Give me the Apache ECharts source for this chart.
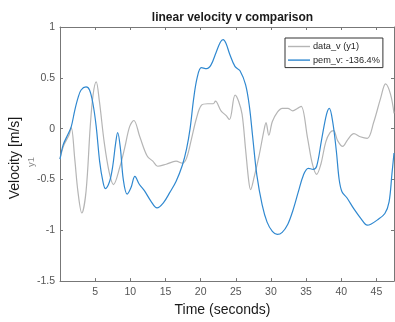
<!DOCTYPE html>
<html>
<head>
<meta charset="utf-8">
<script src="https://cdn.jsdelivr.net/npm/echarts@6/dist/echarts.min.js"></script>
<style>html,body{margin:0;padding:0;background:#fff;}#c{width:395px;height:322px;}</style>
</head>
<body>
<div id="c"></div>
<script>
var titleText = 'linear velocity v comparison';
var xName = 'Time (seconds)';
var yName = 'Velocity [m/s]';
var ySub = 'y1';
var legendNames = ['data_v (y1)', 'pem_v: -136.4%'];

var dataTime = [0, 0.5, 1.3, 1.6, 2.1, 2.55, 3.1, 3.7, 4.3, 4.7, 5.15, 5.6, 6.3, 7.0, 7.6, 8.5, 9.2, 9.9, 10.5, 11.35, 12.4, 13.2, 13.9, 15.1, 16.5, 17.4, 18.0, 18.7, 19.4, 20.1, 21.0, 21.8, 22.1, 22.9, 23.6, 24.1, 24.9, 25.4, 25.9, 26.4, 26.85, 27.1, 27.6, 28.3, 29.0, 29.3, 29.7, 30.2, 30.9, 31.6, 32.4, 33.1, 33.8, 34.3, 35.2, 35.9, 36.5, 37.1, 37.8, 38.4, 38.9, 39.5, 40.2, 40.9, 41.8, 42.7, 43.7, 44.6, 45.6, 46.3, 47.0, 47.5];
var dataV = [-0.30, -0.17, -0.06, 0.01, -0.30, -0.62, -0.83, -0.62, 0.02, 0.33, 0.46, 0.27, -0.14, -0.43, -0.55, -0.38, -0.19, 0.02, 0.08, -0.08, -0.27, -0.32, -0.37, -0.35, -0.32, -0.34, -0.29, -0.10, 0.10, 0.23, 0.245, 0.245, 0.27, 0.175, 0.13, 0.09, 0.33, 0.27, 0.14, -0.21, -0.52, -0.60, -0.48, -0.27, -0.02, 0.06, -0.065, 0.07, 0.16, 0.20, 0.20, 0.175, 0.20, 0.22, -0.09, -0.35, -0.45, -0.35, -0.13, -0.04, -0.02, -0.12, -0.175, -0.11, -0.05, -0.08, -0.095, 0.06, 0.30, 0.44, 0.34, 0.15];

var pemTime = [0, 0.45, 1.1, 1.6, 2.1, 2.55, 3.0, 3.7, 4.2, 4.7, 5.15, 5.65, 6.1, 6.45, 7.05, 7.5, 7.9, 8.2, 8.6, 9.0, 9.55, 10.1, 10.65, 11.3, 12.0, 12.9, 13.8, 14.7, 15.6, 16.5, 17.4, 18.0, 18.5, 19.0, 19.5, 20.1, 20.85, 21.5, 22.2, 22.8, 23.2, 23.6, 24.1, 24.9, 25.6, 26.4, 26.95, 27.4, 28.0, 28.75, 29.45, 30.2, 30.9, 31.6, 32.4, 33.1, 33.9, 34.6, 35.3, 36.0, 36.5, 37.2, 37.9, 38.3, 38.8, 39.3, 39.7, 40.1, 40.8, 41.8, 42.8, 43.7, 44.2, 45.1, 46.2, 46.8, 47.2, 47.5];
var pemV = [-0.30, -0.16, -0.06, 0.02, 0.18, 0.30, 0.38, 0.41, 0.38, 0.24, 0.02, -0.33, -0.52, -0.59, -0.52, -0.37, -0.15, -0.04, -0.20, -0.50, -0.645, -0.58, -0.47, -0.55, -0.61, -0.71, -0.78, -0.73, -0.63, -0.52, -0.36, -0.20, 0.0, 0.29, 0.50, 0.60, 0.59, 0.63, 0.75, 0.85, 0.875, 0.84, 0.74, 0.61, 0.57, 0.43, 0.21, -0.08, -0.46, -0.75, -0.92, -1.01, -1.04, -1.02, -0.94, -0.81, -0.62, -0.46, -0.39, -0.40, -0.37, -0.11, 0.14, 0.20, 0.06, -0.22, -0.50, -0.62, -0.68, -0.79, -0.885, -0.95, -0.94, -0.90, -0.835, -0.72, -0.45, -0.24];

function pairs(t, v) { return t.map(function (x, i) { return [x, v[i]]; }); }

var FONT = '"Liberation Sans", Arial, Helvetica, sans-serif';
var AX = '#777777';
var LBL = '#555555';

var chart = echarts.init(document.getElementById('c'), null, { renderer: 'canvas' });
var tickCommon = { show: true, inside: true, length: 3, lineStyle: { color: AX } };
chart.setOption({
  animation: false,
  backgroundColor: '#ffffff',
  title: {
    text: titleText, left: 227.5, top: 7, textAlign: 'center',
    textStyle: { fontFamily: FONT, fontSize: 12, fontWeight: 'bold', color: '#1a1a1a' }
  },
  grid: { left: 60, right: 1, top: 27, bottom: 33, containLabel: false },
  legend: {
    data: legendNames, orient: 'vertical', left: 285, top: 38,
    padding: [3, 3, 2, 3], itemWidth: 22, itemHeight: 1.4, itemGap: 2.6, icon: 'rect',
    backgroundColor: '#ffffff', borderColor: '#333333', borderWidth: 1, borderRadius: 0,
    textStyle: { fontFamily: FONT, fontSize: 9.2, color: '#262626', lineHeight: 11, padding: [0, 0, 0, -2] }
  },
  xAxis: [
    { type: 'value', min: 0, max: 47.5, interval: 5, position: 'bottom',
      axisLine: { show: true, onZero: false, lineStyle: { color: AX } },
      axisTick: tickCommon,
      axisLabel: { showMinLabel: false, showMaxLabel: false, fontFamily: FONT, fontSize: 10.5, color: LBL, margin: 6 },
      splitLine: { show: false },
      name: xName, nameLocation: 'middle', nameGap: 18,
      nameTextStyle: { fontFamily: FONT, fontSize: 14, color: '#1a1a1a', padding: [0, 9, 0, 0] } },
    { type: 'value', min: 0, max: 47.5, interval: 5, position: 'top',
      axisLine: { show: true, onZero: false, lineStyle: { color: AX } },
      axisTick: tickCommon, axisLabel: { show: false }, splitLine: { show: false } }
  ],
  yAxis: [
    { type: 'value', min: -1.5, max: 1, interval: 0.5, position: 'left',
      axisLine: { show: true, onZero: false, lineStyle: { color: AX } },
      axisTick: tickCommon,
      axisLabel: { fontFamily: FONT, fontSize: 10.5, color: LBL, margin: 5 },
      splitLine: { show: false } },
    { type: 'value', min: -1.5, max: 1, interval: 0.5, position: 'right',
      axisLine: { show: true, onZero: false, lineStyle: { color: AX } },
      axisTick: tickCommon, axisLabel: { show: false }, splitLine: { show: false } }
  ],
  graphic: [
    { type: 'text', x: 15, y: 158, rotation: Math.PI / 2,
      style: { text: yName, fontFamily: FONT, fontSize: 14, fill: '#1a1a1a', textAlign: 'center', textVerticalAlign: 'middle' } },
    { type: 'text', x: 31, y: 162, rotation: Math.PI / 2,
      style: { text: ySub, fontFamily: FONT, fontSize: 9.5, fill: '#8a8a8a', textAlign: 'center', textVerticalAlign: 'middle' } }
  ],
  series: [
    { name: legendNames[0], type: 'line', xAxisIndex: 0, yAxisIndex: 0, data: pairs(dataTime, dataV),
      symbol: 'none', smooth: 0.35, lineStyle: { color: '#b5b5b5', width: 1.2 }, itemStyle: { color: '#b5b5b5' }, z: 2 },
    { name: legendNames[1], type: 'line', xAxisIndex: 0, yAxisIndex: 0, data: pairs(pemTime, pemV),
      symbol: 'none', smooth: 0.35, lineStyle: { color: '#2f88d0', width: 1.2 }, itemStyle: { color: '#2f88d0' }, z: 3 }
  ]
});
</script>
</body>
</html>
